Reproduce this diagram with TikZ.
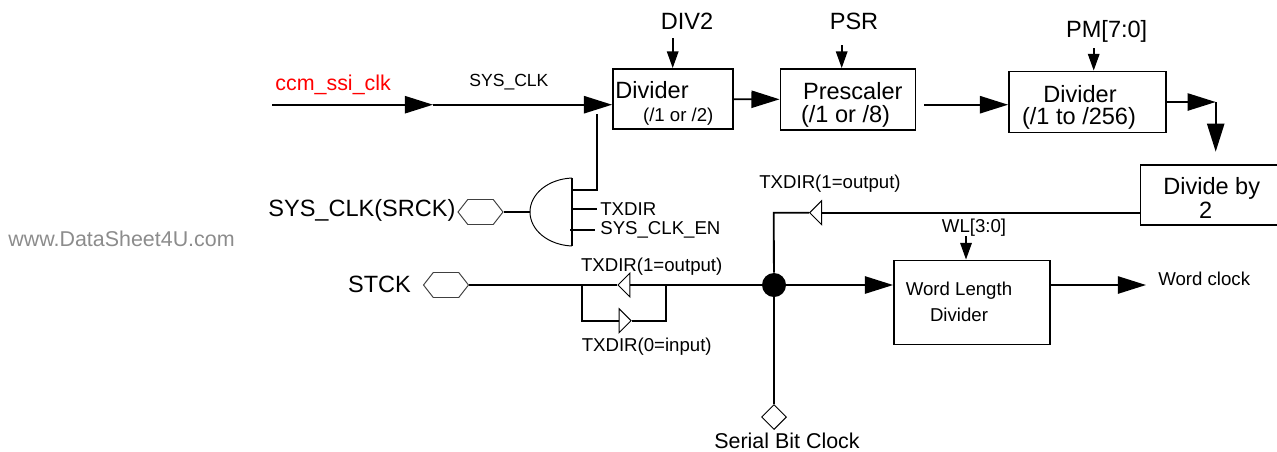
\documentclass[tikz,border=0pt]{standalone}
\usepackage{fontspec}
\setmainfont{Liberation Sans}
\usepackage{tikz}
\usetikzlibrary{arrows.meta,shapes.geometric,shapes.symbols}
\def\px{0.02cm}
\tikzset{
    wire/.style={line width=1.05pt},
    bigarrow/.style={wire,-{Triangle[length=16pt,width=9.8pt]}},
    smallarrow/.style={wire,-{Triangle[length=9.5pt,width=6.5pt]}},
    blockbox/.style={draw,line width=1.05pt,inner sep=0pt},
    hexport/.style={draw=black!75,line width=0.55pt,signal,signal to=west and east,signal pointer angle=104,inner sep=0pt,minimum width=45*\px,minimum height=25*\px},
    bufleft/.style={draw,line width=0.55pt,isosceles triangle,isosceles triangle apex angle=90,isosceles triangle stretches,shape border rotate=180,inner sep=0pt,minimum width=24*\px,minimum height=12*\px},
    bufright/.style={bufleft,shape border rotate=0},
    bigtext/.style={inner sep=0pt,font=\fontsize{13.4pt}{15pt}\selectfont},
    midtext/.style={inner sep=0pt,font=\fontsize{12.2pt}{14pt}\selectfont},
    smalltext/.style={inner sep=0pt,font=\fontsize{10.6pt}{12pt}\selectfont},
}
\begin{document}
\begin{tikzpicture}[x=0.02cm,y=-0.02cm]
    \useasboundingbox (0,0) rectangle (1277,451);

    % blocks
    \node[blockbox,minimum width=120*\px,minimum height=60*\px] (divone) at (673,99) {};
    \node[blockbox,minimum width=135*\px,minimum height=61*\px] (prescaler) at (848,99.5) {};
    \node[blockbox,minimum width=157*\px,minimum height=61*\px] (divtwo) at (1087.5,102) {};
    \node[blockbox,minimum width=145*\px,minimum height=60*\px] (divby) at (1213,194.7) {};
    \node[blockbox,minimum width=156*\px,minimum height=84*\px] (wordlen) at (972,302.5) {};

    % ports
    \node[hexport] (srckhex) at (480.5,212) {};
    \node[hexport] (stckhex) at (446,285) {};
    \node[draw,line width=0.55pt,diamond,aspect=1,inner sep=0pt,minimum size=25*\px] (serialport) at (774,417) {};
    \node[circle,fill=black,inner sep=0pt,minimum size=24*\px] (junction) at (774,285) {};
    \node[bufleft] (txbuf) at (816.7,212.7) {};
    \node[bufleft] (outbuf) at (625,285) {};
    \node[bufright] (inbuf) at (624,320.7) {};

    \coordinate (clkstart) at (272,104.7);
    \coordinate (clkmid) at (433,104.7);
    \coordinate (clkdrop) at (596.7,114);
    \coordinate (gatetop) at (572,178);
    \coordinate (gatebot) at (572,246);
    \coordinate (gatefeed) at (572,190);
    \coordinate (gatein) at (530,212);
    \coordinate (gatedir) at (572,209.3);
    \coordinate (dirend) at (596.7,209.3);
    \coordinate (gateen) at (570,230);
    \coordinate (enend) at (595,230);
    \coordinate (prestart) at (924,104.7);
    \coordinate (divcorner) at (1215.7,102);
    \coordinate (txbend) at (773.7,212.7);
    \coordinate (loopl) at (581.7,285);
    \coordinate (loopr) at (666,285);
    \coordinate (wordend) at (1146,285);
    \coordinate (divfeed) at (672.7,38);
    \coordinate (psrfeed) at (841.7,45);
    \coordinate (pmfeed) at (1093.7,48);
    \coordinate (wlfeed) at (966,236);

    % clock path
    \draw[bigarrow] (clkstart) -- (clkmid);
    \draw[bigarrow] (clkmid) -- (divone.west |- clkmid);
    \draw[bigarrow] (divone) -- (prescaler);
    \draw[bigarrow] (prestart) -- (divtwo.west |- prestart);
    \draw[bigarrow] (divtwo.east |- divcorner) -- (divcorner);
    \draw[bigarrow] (divcorner) -- ++(0,49.7);
    \draw[smallarrow] (divfeed) -- (divfeed |- divone.north);
    \draw[smallarrow] (psrfeed) -- (psrfeed |- prescaler.north);
    \draw[smallarrow] (pmfeed) -- (pmfeed |- divtwo.north);
    \draw[smallarrow] (wlfeed) -- (wlfeed |- wordlen.north);

    % gate
    \draw[line width=0.55pt] (gatetop) .. controls (548,179) and (530,194) .. (gatein) .. controls (530,230) and (548,245) .. (gatebot);
    \draw[wire] (gatetop) -- (gatebot);
    \draw[wire] (clkdrop) |- (gatefeed);
    \draw[wire] (gatedir) -- (dirend);
    \draw[wire] (gateen) -- (enend);
    \draw[wire] (srckhex) -- (gatein);

    % bit clock
    \draw[wire] (divby.west |- txbend) -- (txbuf);
    \draw[wire] (txbuf) -- (txbend) -- (junction);
    \draw[wire] (junction) -- (serialport);
    \draw[wire] (junction) -- (outbuf);
    \draw[wire] (outbuf) -- (stckhex);
    \draw[wire] (loopr) |- (inbuf);
    \draw[wire] (inbuf) -| (loopl);
    \draw[bigarrow] (junction) -- (wordlen.west |- junction);
    \draw[bigarrow] (wordlen.east |- wordend) -- (wordend);

    % labels
    \node[midtext,text=red,anchor=west] (clklabel) at (275,85) {ccm\_ssi\_clk};
    \node[font=\fontsize{10pt}{12pt}\selectfont,inner sep=0pt,anchor=west] (sysclk) at (469,82) {SYS\_CLK};
    \node[bigtext] (divlabel) at (687,21) {DIV2};
    \node[bigtext] (psrlabel) at (854,21) {PSR};
    \node[bigtext] (pmlabel) at (1106.7,31) {PM[7:0]};
    \node[bigtext,anchor=west] (divonetext) at (615,90) {Divider};
    \node[smalltext,anchor=west] (divonerange) at (642.7,117) {(/1 or /2)};
    \node[bigtext,anchor=west] (prescalertext) at (802.7,91) {Prescaler};
    \node[bigtext,anchor=west] (prescalerrange) at (800.7,116) {(/1 or /8)};
    \node[bigtext] (divtwotext) at (1080,93.7) {Divider};
    \node[bigtext] (divtworange) at (1079,118) {(/1 to /256)};
    \node[bigtext] (divbytext) at (1211.7,188) {Divide by};
    \node[bigtext] (divbytwo) at (1205.7,210.7) {2};
    \node[smalltext] (wordtext) at (959,291) {Word Length};
    \node[smalltext] (wordtexttwo) at (959,315) {Divider};
    \node[smalltext] (wllabel) at (974,227.7) {WL[3:0]};
    \node[smalltext] (txdirtop) at (830,184) {TXDIR(1=output)};
    \node[smalltext] (txdirout) at (651.7,266.7) {TXDIR(1=output)};
    \node[smalltext] (txdirin) at (646.7,346.7) {TXDIR(0=input)};
    \node[smalltext,anchor=west] (txdirgate) at (600,209.3) {TXDIR};
    \node[smalltext,anchor=west] (clkenable) at (600,230) {SYS\_CLK\_EN};
    \node[smalltext,anchor=west] (wordclock) at (1158,279) {Word clock};
    \node[midtext] (seriallabel) at (787,440.5) {Serial Bit Clock};
    \node[bigtext] (stcklabel) at (379.5,284) {STCK};
    \node[bigtext,anchor=west] (srcklabel) at (268,210) {SYS\_CLK(SRCK)};
    \node[midtext,text=black!45,anchor=west] (watermark) at (8,239) {www.DataSheet4U.com};
\end{tikzpicture}
\end{document}
